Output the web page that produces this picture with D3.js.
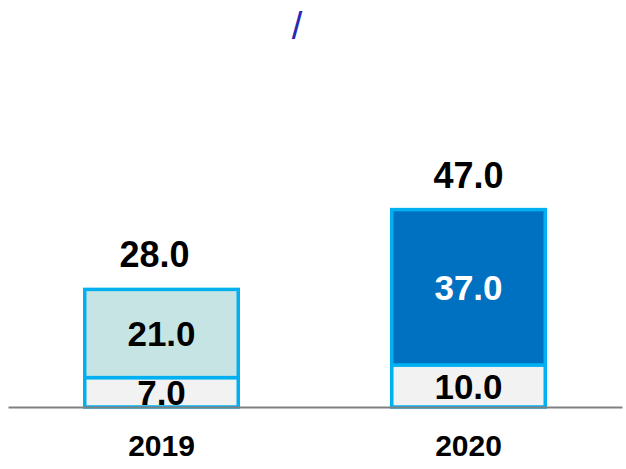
<!DOCTYPE html>
<html>
<head>
<meta charset="utf-8">
<script src="https://cdn.jsdelivr.net/npm/d3@7"></script>
<style>
  body { margin: 0; background: #fff; }
  svg { display: block; font-family: "Liberation Sans", Arial, sans-serif; }
</style>
</head>
<body>
<svg id="chart"></svg>
<script>
// chart values
const years = ["2019", "2020"];
const baseValues = [7.0, 10.0];
const topValues = [21.0, 37.0];
const topColors = ["#C7E4E4", "#0070C0"];
const topLabelColors = ["#000000", "#FFFFFF"];
const titleText = "/";

const svgWidth = 626;
const svgHeight = 469;
const baseline = 407;
// the total label of 2019 sits a little left of the bar centre in the original
const totalLabelShift = [-7, 0];

const svg = d3.select("#chart")
    .attr("width", svgWidth)
    .attr("height", svgHeight);

// title
svg.append("text")
    .attr("x", 297)
    .attr("y", 39)
    .attr("text-anchor", "middle")
    .style("font-size", "38px")
    .style("fill", "#2828B4")
    .text(titleText);

// scales
const xScale = d3.scaleBand()
    .domain(years)
    .range([8, 622])
    .paddingInner(0.5)
    .paddingOuter(0.25);

const yScale = d3.scaleLinear()
    .domain([0, 60])
    .range([baseline, baseline - 60 * 4.2]);

const totals = years.map((d, i) => baseValues[i] + topValues[i]);

// stacked segments
years.forEach((year, i) => {
    const x = xScale(year);
    const w = xScale.bandwidth();

    // bottom segment
    svg.append("rect")
        .attr("x", x)
        .attr("y", yScale(baseValues[i]))
        .attr("width", w)
        .attr("height", yScale(0) - yScale(baseValues[i]))
        .style("fill", "#F2F2F2")
        .style("stroke", "#00B0F0")
        .style("stroke-width", 3.5);

    // top segment
    svg.append("rect")
        .attr("x", x)
        .attr("y", yScale(totals[i]))
        .attr("width", w)
        .attr("height", yScale(baseValues[i]) - yScale(totals[i]))
        .style("fill", topColors[i])
        .style("stroke", "#00B0F0")
        .style("stroke-width", 3.5);

    // segment labels
    svg.append("text")
        .attr("x", x + w / 2)
        .attr("y", (yScale(0) + yScale(baseValues[i])) / 2)
        .attr("dy", "0.36em")
        .attr("text-anchor", "middle")
        .style("font-size", "35px")
        .style("font-weight", "bold")
        .style("fill", "#000")
        .text(baseValues[i].toFixed(1));

    svg.append("text")
        .attr("x", x + w / 2)
        .attr("y", (yScale(baseValues[i]) + yScale(totals[i])) / 2)
        .attr("dy", "0.36em")
        .attr("text-anchor", "middle")
        .style("font-size", "35px")
        .style("font-weight", "bold")
        .style("fill", topLabelColors[i])
        .text(topValues[i].toFixed(1));

    // total label
    svg.append("text")
        .attr("x", x + w / 2 + totalLabelShift[i])
        .attr("y", yScale(totals[i]) - 22)
        .attr("text-anchor", "middle")
        .style("font-size", "36px")
        .style("font-weight", "bold")
        .style("fill", "#000")
        .text(totals[i].toFixed(1));
});

// baseline axis
const xAxis = d3.axisBottom(xScale).tickSize(0).tickPadding(0);
const axisG = svg.append("g")
    .attr("transform", `translate(0, ${baseline})`)
    .call(xAxis);

axisG.select(".domain")
    .attr("stroke", "#808080")
    .attr("stroke-width", 2);

axisG.selectAll("text")
    .attr("y", 49)
    .attr("dy", 0)
    .style("font-family", "'Liberation Sans', Arial, sans-serif")
    .style("font-size", "30px")
    .style("font-weight", "bold")
    .style("fill", "#000");
</script>
</body>
</html>
